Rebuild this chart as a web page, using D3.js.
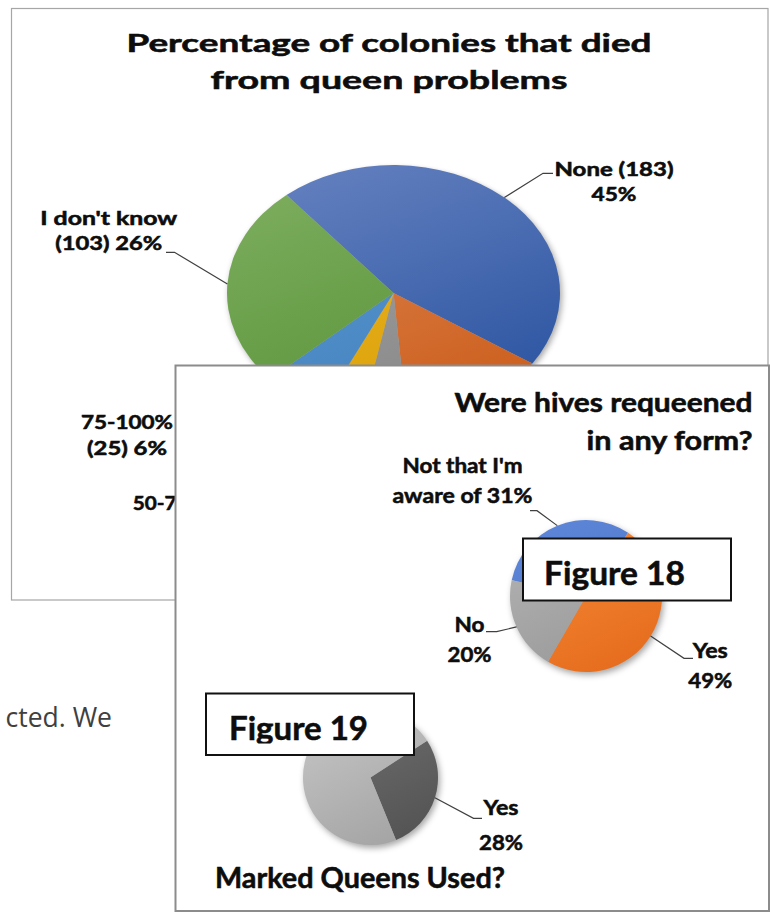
<!DOCTYPE html>
<html>
<head>
<meta charset="utf-8">
<script src="https://cdn.jsdelivr.net/npm/d3@7"></script>
<style>
  body { margin: 0; background: #fff; }
  text { font-family: Lato, "Open Sans", sans-serif; font-weight: 700; fill: #0d0d0d; stroke: #0d0d0d; stroke-width: 0.55; }
  .body-text { font-family: "Open Sans", sans-serif; font-weight: 400; fill: #404040; stroke: none; }
</style>
</head>
<body>
<svg id="chart" width="770" height="912"></svg>
<script>
/*********************************
   DATA
 *********************************/
// Figure: colonies that died from queen problems
const queenCats = ["None", "0-25%", "25-50%", "50-75%", "75-100%", "I don't know"];
const queenCounts = [183, 58, 18, 16, 25, 103];
const queenColors = [["#6380bf", "#2a53a0"], ["#de8654", "#cb5d1a"], ["#a3a3a3", "#868686"],
                     ["#ecb430", "#d9a000"], ["#6199cf", "#3d80be"], ["#7cad5e", "#579134"]];

// Figure 18: were hives requeened
const requeenCats = ["Not that I'm aware of", "Yes", "No"];
const requeenPcts = [31, 49, 20];
const requeenColors = [["#5e86d8", "#4870c4"], ["#f68b3a", "#e56c1c"], ["#b3b3b3", "#979797"]];

// Figure 19: marked queens used
const markedCats = ["Yes", "No"];
const markedPcts = [28, 72];
const markedColors = [["#707070", "#535353"], ["#c4c4c4", "#a3a3a3"]];

/*********************************
   SETUP
 *********************************/
const svg = d3.select("#chart");
const defs = svg.append("defs");
defs.append("filter").attr("id", "soft").attr("x", "-30%").attr("y", "-30%").attr("width", "160%").attr("height", "160%")
  .append("feGaussianBlur").attr("stdDeviation", 3);

// Draw A Pie (Optionally Squashed Into An Ellipse) And Return Edge Midpoints For Leaders
function drawPie(values, colors, cfg) {
  const sy = cfg.sy || 1;
  const g = svg.append("g").attr("transform", "translate(" + cfg.cx + "," + cfg.cy + ") scale(1," + sy + ")");

  colors.forEach((c, i) => {
    const grad = defs.append("linearGradient").attr("id", cfg.id + "-" + i).attr("gradientUnits", "userSpaceOnUse")
      .attr("x1", -cfg.r * 0.5).attr("y1", -cfg.r).attr("x2", cfg.r * 0.5).attr("y2", cfg.r);
    grad.append("stop").attr("offset", "0%").attr("stop-color", c[0]);
    grad.append("stop").attr("offset", "100%").attr("stop-color", c[1]);
  });

  // Soft Shadow Behind Pie
  g.append("circle").attr("cx", 2).attr("cy", 3).attr("r", cfg.r).attr("fill", "rgba(0,0,0,0.35)").attr("filter", "url(#soft)");

  const start = cfg.start * Math.PI / 180;
  const arcs = d3.pie().sort(null).startAngle(start).endAngle(start + 2 * Math.PI)(values);
  const arc = d3.arc().innerRadius(0).outerRadius(cfg.r);
  g.selectAll("path").data(arcs).join("path").attr("d", arc).attr("fill", (d, i) => "url(#" + cfg.id + "-" + i + ")");

  const edge = d3.arc().innerRadius(cfg.r).outerRadius(cfg.r);
  return arcs.map((a) => { const p = edge.centroid(a); return [cfg.cx + p[0], cfg.cy + p[1] * sy]; });
}

// Write Lines Of Text Stretched To Measured Widths
function writeLines(lines, x, ys, widths, size, anchor) {
  lines.forEach((t, i) => {
    svg.append("text").attr("x", x).attr("y", ys[i]).attr("text-anchor", anchor || "middle").attr("font-size", size)
      .attr("textLength", widths[i]).attr("lengthAdjust", "spacingAndGlyphs").text(t);
  });
}

function leader(points) {
  svg.append("path").attr("d", d3.line()(points)).attr("fill", "none").attr("stroke", "#404040").attr("stroke-width", 1.2);
}

function panel(x, y, w, h, stroke, sw) {
  svg.append("rect").attr("x", x).attr("y", y).attr("width", w).attr("height", h)
    .attr("fill", "#fff").attr("stroke", stroke).attr("stroke-width", sw);
}

/*********************************
   BACK PANEL: QUEEN PROBLEMS
 *********************************/
panel(11.5, 8.5, 756.5, 591.5, "#a6a6a6", 1.2);
writeLines(["Percentage of colonies that died", "from queen problems"], 389, [51.5, 89], [525, 357], 25);

const queenTotal = d3.sum(queenCounts);
const queenPct = queenCounts.map((v) => Math.round(v / queenTotal * 100) + "%");
const queenEdges = drawPie(queenCounts, queenColors, { id: "q", cx: 393.5, cy: 293, r: 166.5, sy: 128 / 166.5, start: -40 });

const queenLabels = [
  { i: 0, x: 614, ys: [175.7, 201], w: [119, 45], lines: (c, n, p) => [c + " (" + n + ")", p], lead: [[543, 173.3], [553, 173.3]] },
  { i: 5, x: 108.7, ys: [225, 250], w: [137, 107], lines: (c, n, p) => [c, "(" + n + ") " + p], lead: [[174.5, 252.3], [166, 252.3]] },
  { i: 4, x: 127, ys: [429.3, 455], w: [92, 80], lines: (c, n, p) => [c, "(" + n + ") " + p] },
  { i: 3, x: 132.7, ys: [510], w: [147], anchor: "start", lines: (c, n, p) => [c + " (" + n + ") " + p] }
];
queenLabels.forEach((l) => {
  writeLines(l.lines(queenCats[l.i], queenCounts[l.i], queenPct[l.i]), l.x, l.ys, l.w, 19, l.anchor);
  if (l.lead) leader([queenEdges[l.i]].concat(l.lead));
});

// Document Text Peeking Out Between Panels
svg.append("text").attr("class", "body-text").attr("x", 112).attr("y", 727).attr("text-anchor", "end").attr("font-size", 26.5).text("cted. We");

/*********************************
   FRONT PANEL: REQUEENING & MARKED QUEENS
 *********************************/
panel(175.5, 365.5, 593.5, 545.5, "#8c8c8c", 2);
writeLines(["Were hives requeened", "in any form?"], 752.5, [411.7, 450], [298, 166], 26, "end");

const requeenEdges = drawPie(requeenPcts, requeenColors, { id: "r", cx: 586, cy: 596, r: 76, start: -78 });
const requeenLabels = [
  { i: 0, x: 462.5, ys: [473, 502.7], w: [120, 140], lines: (c, p) => ["Not that I'm", "aware of " + p], lead: [[537, 510.7], [530, 510.7]] },
  { i: 1, x: 710.3, ys: [658, 688], w: [35, 44], lines: (c, p) => [c, p], lead: [[684, 658.3], [693, 658.3]] },
  { i: 2, x: 469.5, ys: [631.7, 661.7], w: [30, 44], lines: (c, p) => [c, p], lead: [[496.7, 631.7], [486, 631.7]] }
];
requeenLabels.forEach((l) => {
  writeLines(l.lines(requeenCats[l.i], requeenPcts[l.i] + "%"), l.x, l.ys, l.w, 21.5);
  leader([requeenEdges[l.i]].concat(l.lead));
});

// Figure 18 Caption Box
svg.append("rect").attr("x", 523).attr("y", 538.5).attr("width", 208).attr("height", 62).attr("fill", "#fff").attr("stroke", "#111").attr("stroke-width", 2);
writeLines(["Figure 18"], 544, [585], [141], 32.5, "start");

const markedStart = 57;
const markedEdges = drawPie(markedPcts, markedColors, { id: "m", cx: 370.5, cy: 777.5, r: 67.5, start: markedStart });
writeLines([markedCats[0], markedPcts[0] + "%"], 501, [815, 850], [35, 44], 21.5);
leader([markedEdges[0], [473.5, 818.3], [482, 818.3]]);

// Figure 19 Caption Box (Text Clipped By Its Frame)
svg.append("rect").attr("x", 206).attr("y", 693.5).attr("width", 208).attr("height", 61.5).attr("fill", "#fff").attr("stroke", "#111").attr("stroke-width", 2);
defs.append("clipPath").attr("id", "fig19clip").append("rect").attr("x", 207).attr("y", 694).attr("width", 206).attr("height", 49.5);
svg.append("text").attr("x", 229).attr("y", 740).attr("font-size", 32.5).attr("textLength", 139).attr("lengthAdjust", "spacingAndGlyphs")
  .attr("clip-path", "url(#fig19clip)").text("Figure 19");

writeLines(["Marked Queens Used?"], 215, [888.3], [290], 28, "start");
</script>
</body>
</html>
